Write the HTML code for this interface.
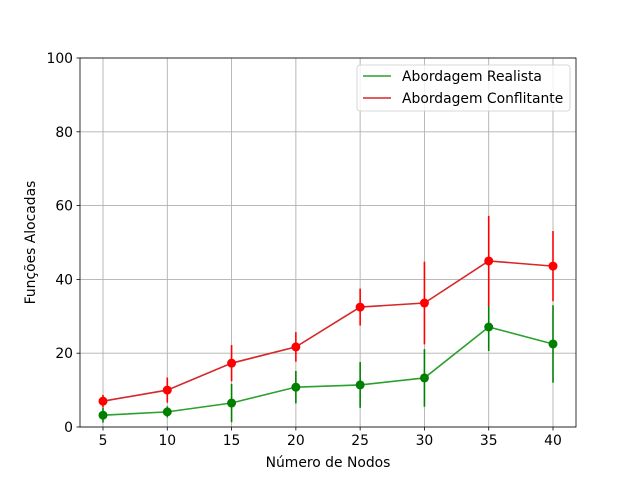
<!DOCTYPE html>
<html><head><meta charset="utf-8"><style>body{margin:0;background:#fff}svg{font-family:"DejaVu Sans","Liberation Sans",sans-serif}</style></head>
<body>
<svg id="chart" width="640" height="480" xmlns="http://www.w3.org/2000/svg"></svg>
<script>
const categories=[5,10,15,20,25,30,35,40];
const realistaMean=[3.2,4.1,6.5,10.8,11.4,13.3,27.1,22.5];
const realistaErr=[2,1.5,5.2,4.4,6.2,7.8,6.5,10.5];
const conflitanteMean=[7.0,10.0,17.3,21.7,32.5,33.6,45,43.6];
const conflitanteErr=[1.7,3.4,4.9,4.0,5.0,11.2,12.2,9.5];
const yTicks=[0,20,40,60,80,100];
const L=80,R=576,T=58,B=427;
const FS=13.9;
const xs=v=>103+(v-5)*(553-103)/35;
const ys=v=>B-v*(B-T)/100;
const svg=document.getElementById('chart');
const NS='http://www.w3.org/2000/svg';
function mk(tag,attrs,parent){const e=document.createElementNS(NS,tag);for(const k in attrs)e.setAttribute(k,attrs[k]);(parent||svg).appendChild(e);return e;}
categories.forEach(c=>{const g=mk('line',{x1:xs(c),x2:xs(c),y1:T,y2:B,stroke:'#b0b0b0','stroke-width':0.9});


mk('line',{x1:xs(c),x2:xs(c),y1:B,y2:B+3.5,stroke:'#000','stroke-width':0.8});
const l=mk('text',{x:xs(c),y:B+18,'text-anchor':'middle','font-size':FS});l.textContent=c;

});
yTicks.forEach(v=>{const g=mk('line',{x1:L,x2:R,y1:ys(v),y2:ys(v),stroke:'#b0b0b0','stroke-width':0.9});


mk('line',{x1:L-3.5,x2:L,y1:ys(v),y2:ys(v),stroke:'#000','stroke-width':0.8});
const l=mk('text',{x:L-7,y:ys(v)+5,'text-anchor':'end','font-size':FS});l.textContent=v;

});
function series(mean,err,lineColor,markColor,name){
 const p=mk('polyline',{points:categories.map((c,i)=>xs(c)+','+ys(mean[i])).join(' '),fill:'none',stroke:lineColor,'stroke-width':1.6});
 
 
 categories.forEach((c,i)=>{const e=mk('line',{x1:xs(c),x2:xs(c),y1:ys(mean[i]+err[i]),y2:ys(Math.max(0,mean[i]-err[i])),stroke:markColor,'stroke-width':1.6});
 
 });
 categories.forEach((c,i)=>{const m=mk('circle',{cx:xs(c),cy:ys(mean[i]),r:4.5,fill:markColor});
 
 });
}
series(realistaMean,realistaErr,'#2ca02c','#008000','realista');
series(conflitanteMean,conflitanteErr,'#d62728','#ff0000','conflitante');
mk('rect',{x:L,y:T,width:R-L,height:B-T,fill:'none',stroke:'#000','stroke-width':0.8});
const xt=mk('text',{x:(L+R)/2,y:467,'text-anchor':'middle','font-size':FS});xt.textContent='Número de Nodos';

const yt=mk('text',{x:0,y:0,'text-anchor':'middle','font-size':FS,transform:'translate(35,'+((T+B)/2)+') rotate(-90)'});yt.textContent='Funções Alocadas';

const lg=mk('g',{});
mk('rect',{x:357,y:65,width:213,height:46,rx:3,fill:'#fff','fill-opacity':0.8,stroke:'#ccc','stroke-width':0.8},lg);
[['Abordagem Realista','#2ca02c',76],['Abordagem Conflitante','#d62728',98]].forEach(([t,c,y])=>{
 mk('line',{x1:363,x2:391,y1:y,y2:y,stroke:c,'stroke-width':1.6},lg);
 const tx=mk('text',{x:402,y:y+5,'font-size':FS},lg);tx.textContent=t;
 });
</script>
</body></html>
